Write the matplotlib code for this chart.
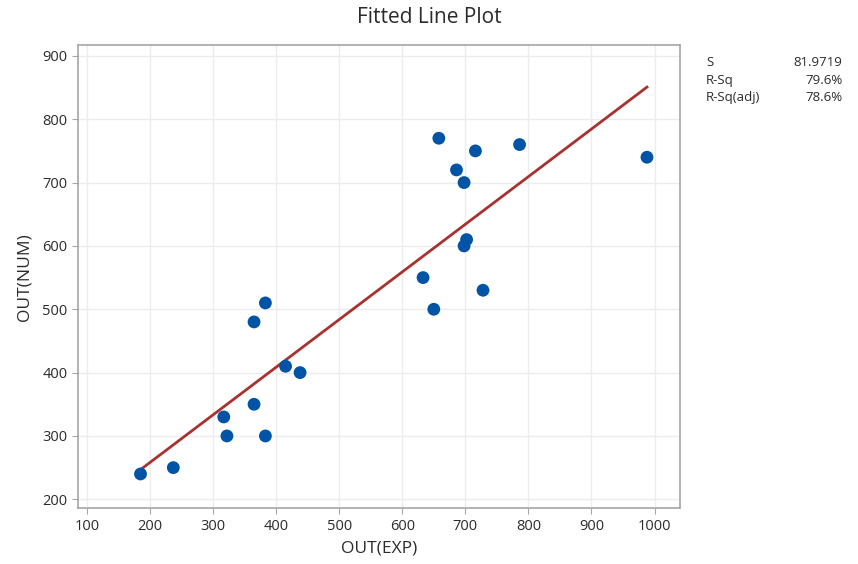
import numpy as np
import matplotlib.pyplot as plt

# measured vs. numerical outputs
out_exp = [185, 237, 317, 322, 365, 365, 383, 383, 415, 438,
           633, 650, 658, 686, 698, 716, 698, 702, 728, 786, 988]
out_num = [240, 250, 330, 300, 480, 350, 510, 300, 410, 400,
           550, 500, 770, 720, 700, 750, 600, 610, 530, 760, 740]

stat_names = ['S', 'R-Sq', 'R-Sq(adj)']
stat_values = ['81.9719', '79.6%', '78.6%']

plt.rcParams['font.family'] = ['Open Sans', 'DejaVu Sans']

x = np.array(out_exp, dtype=float)
y = np.array(out_num, dtype=float)
slope, intercept = np.polyfit(x, y, 1)
xf = np.array([x.min(), x.max()])

fig = plt.figure(figsize=(8.58, 5.64), dpi=100)
ax = fig.add_axes([0.091, 0.099, 0.702, 0.821])

ax.plot(xf, intercept + slope * xf, color='#a8322f', linewidth=2, zorder=2)
ax.scatter(x, y, s=85, color='#0054a6', edgecolors='none', zorder=3)

ax.set_xlim(86, 1041)
ax.set_ylim(186, 917)
ax.set_xticks(np.arange(100, 1001, 100))
ax.set_yticks(np.arange(200, 901, 100))
ax.grid(True, color='#ececec', linewidth=1)
ax.set_axisbelow(True)

for sp in ax.spines.values():
    sp.set_color('#a6a6a6')
    sp.set_linewidth(1.2)
ax.tick_params(colors='#a6a6a6', labelcolor='#2b2b2b', labelsize=10.5, length=4)

ax.set_xlabel('OUT(EXP)', fontsize=12.5, color='#2b2b2b', labelpad=5)
ax.set_ylabel('OUT(NUM)', fontsize=12.5, color='#2b2b2b', labelpad=7)
fig.suptitle('Fitted Line Plot', x=0.5, y=0.988, fontsize=15, color='#2b2b2b')

for i, (name, val) in enumerate(zip(stat_names, stat_values)):
    yy = 0.889 - i * 0.031
    fig.text(0.823, yy, name, fontsize=9.5, color='#2b2b2b', va='center')
    fig.text(0.982, yy, val, fontsize=9.5, color='#2b2b2b', va='center', ha='right')

fig.savefig('out.png', dpi=100)
